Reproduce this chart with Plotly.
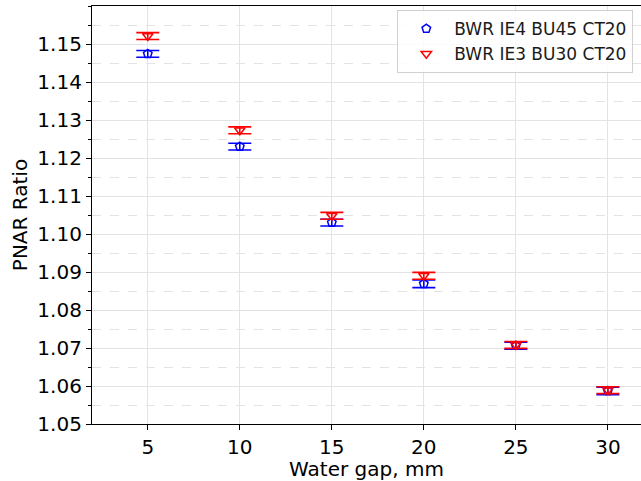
import plotly.graph_objects as go

# Water gap (mm) and PNAR ratios with their uncertainties
water_gap = [5, 10, 15, 20, 25, 30]

ie4_bu45 = [1.1474, 1.1230, 1.1030, 1.0869, 1.0706, 1.0587]
ie4_err = [0.0009, 0.0009, 0.0009, 0.0010, 0.0009, 0.0010]

ie3_bu30 = [1.1521, 1.1273, 1.1048, 1.0890, 1.0708, 1.0589]
ie3_err = [0.0009, 0.0009, 0.0009, 0.0009, 0.0009, 0.0009]

x_ticks = [5, 10, 15, 20, 25, 30]
y_ticks = [1.05, 1.06, 1.07, 1.08, 1.09, 1.10, 1.11, 1.12, 1.13, 1.14, 1.15]

BLUE = "#0000ff"
RED = "#ff0000"
FONT = "DejaVu Sans"

fig = go.Figure()

fig.add_trace(go.Scatter(
    x=water_gap, y=ie4_bu45, mode="markers", name="BWR IE4 BU45 CT20",
    marker=dict(symbol="pentagon-open", size=9, color=BLUE, line=dict(width=1.5, color=BLUE)),
    error_y=dict(type="data", array=ie4_err, visible=True, color=BLUE, thickness=1.6, width=11.5),
))
fig.add_trace(go.Scatter(
    x=water_gap, y=ie3_bu30, mode="markers", name="BWR IE3 BU30 CT20",
    marker=dict(symbol="triangle-down-open", size=9, color=RED, line=dict(width=1.5, color=RED)),
    error_y=dict(type="data", array=ie3_err, visible=True, color=RED, thickness=1.6, width=11.5),
))

fig.update_layout(
    width=641, height=481,
    margin=dict(l=92, r=0, t=6, b=57),
    paper_bgcolor="white", plot_bgcolor="white",
    font=dict(family=FONT, size=20, color="black"),
    showlegend=True,
    legend=dict(
        x=0.986, y=0.99, xanchor="right", yanchor="top",
        bgcolor="rgba(255,255,255,0.85)", bordercolor="#d0d0d0", borderwidth=1,
        font=dict(family=FONT, size=17, color="#1a1a1a"),
        tracegroupgap=0, itemwidth=46,
    ),
)

fig.update_xaxes(
    range=[1.97, 31.8],
    tickvals=x_ticks, ticktext=[str(v) for v in x_ticks],
    ticks="outside", ticklen=5, tickwidth=1.2, tickcolor="black",
    showline=True, linecolor="black", linewidth=1.2, mirror=True,
    showgrid=True, gridcolor="#e3e3e3", gridwidth=1.2,
    zeroline=False,
    title=dict(text="Water gap, mm", font=dict(family=FONT, size=20), standoff=4),
)

fig.update_yaxes(
    range=[1.05, 1.16],
    tickvals=y_ticks, ticktext=[f"{v:.2f}" for v in y_ticks],
    ticks="outside", ticklen=5, tickwidth=1.2, tickcolor="black",
    showline=True, linecolor="black", linewidth=1.2, mirror=True,
    showgrid=True, gridcolor="#e3e3e3", gridwidth=1.2,
    zeroline=False,
    minor=dict(dtick=0.005, tick0=1.05, ticks="outside", ticklen=3, tickcolor="black",
               showgrid=True, gridcolor="#e3e3e3", griddash="dash", gridwidth=1),
    title=dict(text="PNAR Ratio", font=dict(family=FONT, size=20), standoff=4),
)

fig.write_html("out.html")
